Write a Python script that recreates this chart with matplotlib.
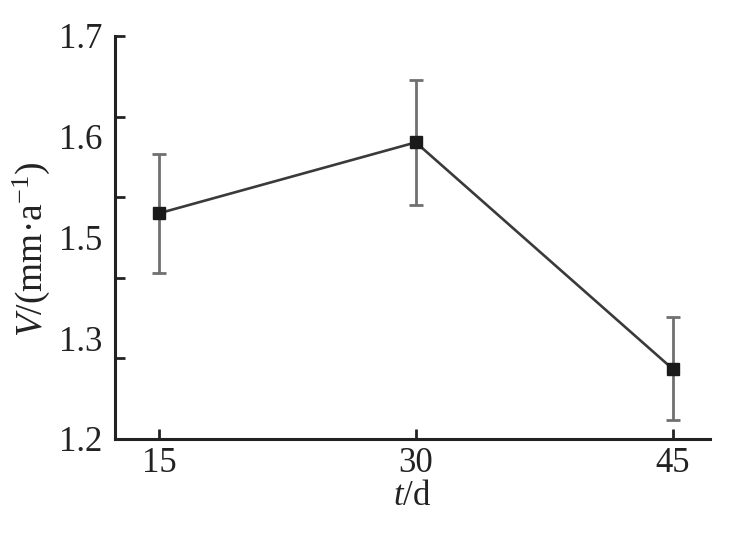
import numpy as np
import matplotlib
matplotlib.use('Agg')
import matplotlib.pyplot as plt

# data
days = [15, 30, 45]
speed = [1.480, 1.568, 1.287]
speed_err = [0.074, 0.078, 0.064]

y_ticks = [1.2, 1.3, 1.4, 1.5, 1.6, 1.7]
y_labels = ['1.2', '1.3', '1.5', '1.6', '1.7']

plt.rcParams['font.family'] = ['Liberation Serif', 'DejaVu Serif']
plt.rcParams['mathtext.fontset'] = 'custom'
plt.rcParams['mathtext.rm'] = 'Liberation Serif'
plt.rcParams['mathtext.it'] = 'Liberation Serif:italic'

fig = plt.figure(figsize=(7.41, 5.34), dpi=100)
ax = fig.add_axes([0.1552, 0.178, 0.8028, 0.7546])

# connecting line + error bars
ax.errorbar(days, speed, yerr=speed_err, fmt='none', ecolor='#707070',
            elinewidth=2.0, capsize=5.0, capthick=2.0, zorder=2)
ax.plot(days, speed, color='#3a3a3a', lw=1.9, marker='s', markersize=8.4,
        markerfacecolor='#1a1a1a', markeredgecolor='#1a1a1a', zorder=3)

ax.set_xlim(12.43, 47.18)
ax.set_ylim(1.2, 1.7)

for side in ['top', 'right']:
    ax.spines[side].set_visible(False)
for side in ['left', 'bottom']:
    ax.spines[side].set_linewidth(2.2)
    ax.spines[side].set_color('#222222')

ax.set_xticks(days)
ax.set_xticklabels([str(d) for d in days])
ax.tick_params(axis='x', direction='in', length=7, width=2.0, color='#222222',
               labelsize=25, pad=6, labelcolor='#222222')

# tick marks every 0.1, the printed labels sit on their own (uneven) spacing
ax.yaxis.remove_overlapping_locs = False
ax.set_yticks(y_ticks)
ax.set_yticklabels([])
ax.tick_params(axis='y', which='major', direction='in', length=7, width=2.0,
               color='#222222')
ax.set_yticks(np.linspace(1.2, 1.7, len(y_labels)), minor=True)
ax.set_yticklabels(y_labels, minor=True)
ax.tick_params(axis='y', which='minor', length=0, labelsize=25, pad=9,
               labelcolor='#222222')

ax.set_xlabel('$t$/d', fontsize=25, color='#222222', labelpad=0)
ax.set_ylabel('$V$/(mm·a$^{-1}$)', fontsize=27, color='#222222')
ax.yaxis.set_label_coords(-0.106, 0.47)

fig.savefig('out.png', dpi=100)
